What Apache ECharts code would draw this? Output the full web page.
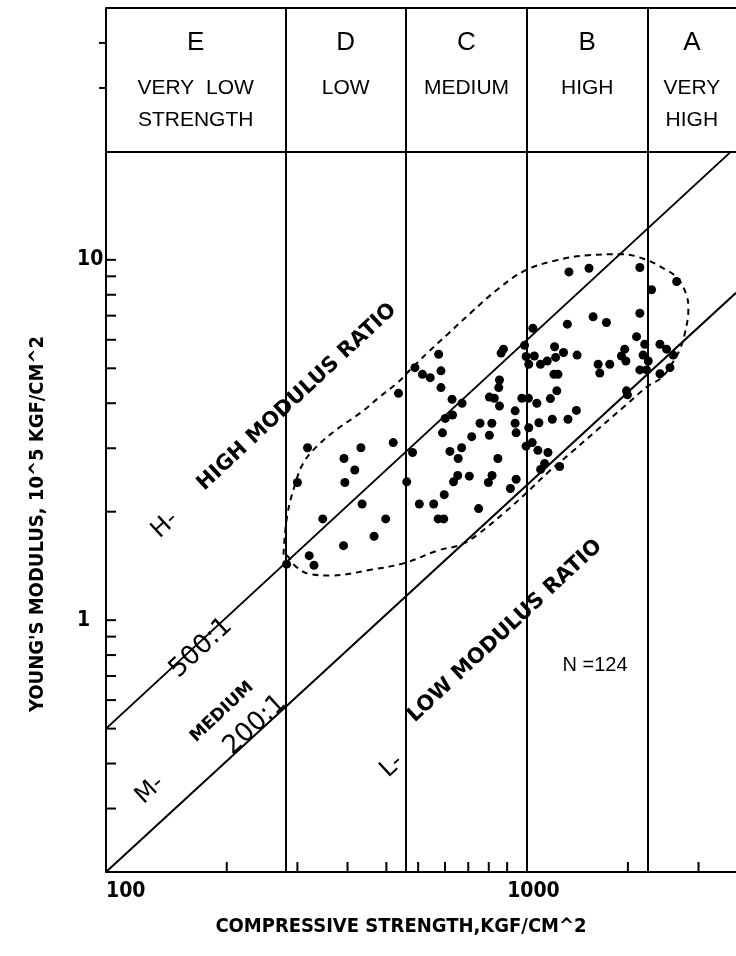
<!DOCTYPE html>
<html><head><meta charset="utf-8">
<script src="https://cdn.jsdelivr.net/npm/echarts@6/dist/echarts.min.js"></script>
<style>html,body{margin:0;padding:0;background:#fff}#c{width:736px;height:956px}</style>
</head><body><div id="c"></div>
<script>
// ---- data ----
const strengthBounds = [280, 560, 1120, 2240];
const classLetters = ['E', 'D', 'C', 'B', 'A'];
const classLine1 = ['VERY  LOW', 'LOW', 'MEDIUM', 'HIGH', 'VERY'];
const classLine2 = ['STRENGTH', '', '', '', 'HIGH'];
const xRange = [100, 3720];
const yRange = [0.2, 50];
const headerBase = 20;
const xMinorTicks = [200, 300, 400, 500, 600, 700, 800, 900, 1000, 2000, 3000];
const yMinorTicks = [0.3, 0.4, 0.5, 0.6, 0.7, 0.8, 0.9, 1, 2, 3, 4, 5, 6, 7, 8, 9, 10];
const yHeaderTicks = [30, 40];
const line500 = [[100, 0.5], [3620, 20]];
const line200 = [[100, 0.2], [3720, 8.1]];
const samples = [
[1426,9.26],[1600,9.48],[2142,9.52],[2646,8.71],[2291,8.26],[2142,7.11],[1638,6.95],[1768,6.70],[1413,6.63],[1159,6.46],
[2102,6.12],[2203,5.83],[2404,5.83],[2497,5.65],[2594,5.44],[979,5.65],[966,5.51],[1105,5.79],[1313,5.74],[1382,5.53],
[1169,5.41],[1115,5.39],[1132,5.13],[1211,5.13],[1259,5.24],[1321,5.36],[1494,5.44],[1964,5.65],[1927,5.41],[1977,5.24],
[2182,5.44],[2248,5.24],[1686,5.13],[1802,5.13],[1702,4.85],[2142,4.95],[2226,4.95],[2546,5.02],[2404,4.83],[1308,4.81],
[1339,4.81],[675,5.47],[589,5.02],[615,4.81],[643,4.71],[684,4.92],[684,4.42],[536,4.26],[729,4.10],[772,4.00],
[957,4.64],[953,4.42],[903,4.16],[929,4.13],[957,3.93],[1088,4.13],[1130,4.13],[1186,4.00],[1282,4.12],[1330,4.33],
[1047,3.81],[1488,3.82],[1418,3.61],[1296,3.61],[1200,3.53],[1984,4.33],[1995,4.22],[701,3.63],[731,3.71],[690,3.31],
[856,3.52],[916,3.52],[903,3.26],[816,3.23],[1047,3.52],[1053,3.31],[1132,3.42],[770,3.01],[720,2.94],[755,2.81],
[948,2.81],[1115,3.04],[1155,3.11],[1193,2.96],[1264,2.92],[1240,2.72],[1212,2.62],[1352,2.67],[581,2.92],[520,3.11],
[432,3.01],[392,2.81],[318,3.01],[417,2.61],[394,2.41],[300,2.41],[562,2.42],[753,2.52],[805,2.51],[735,2.42],
[917,2.52],[898,2.41],[1053,2.46],[1019,2.32],[697,2.23],[604,2.10],[656,2.10],[435,2.10],[347,1.91],[498,1.91],
[673,1.91],[695,1.91],[849,2.04],[466,1.71],[391,1.61],[321,1.51],[330,1.42],[282,1.43]
];
const envelope = [
[277,1.52],[283,1.95],[297,2.41],[311,2.74],[336,3.04],[377,3.39],[432,3.77],[484,4.19],[533,4.56],[575,4.97],
[634,5.53],[711,6.22],[813,7.14],[948,8.29],[1105,9.32],[1313,9.94],[1591,10.3],[1928,10.37],[2204,10.04],[2474,9.42],
[2672,8.84],[2803,7.94],[2830,7.30],[2776,6.28],[2697,5.65],[2570,5.13],[2427,4.71],[2248,4.47],[1965,3.93],[1686,3.39],
[1445,2.92],[1264,2.57],[1105,2.23],[985,1.99],[845,1.73],[767,1.62],[671,1.56],[554,1.44],[457,1.38],[363,1.33],
[324,1.34],[297,1.41],[283,1.51],[277,1.52]
];

// ---- chart ----
const BLACK = '#000';
const NARROW = '"Liberation Sans Narrow", "DejaVu Sans Condensed", "Liberation Sans", sans-serif';
const SANS = '"DejaVu Sans", "Liberation Sans", sans-serif';
const HELV = '"Liberation Sans", Arial, sans-serif';
const edges = [xRange[0]].concat(strengthBounds, [xRange[1]]);
const centers = classLetters.map((_, i) => Math.sqrt(edges[i] * edges[i + 1]));
function decadeLabel(v) {
  const l = Math.log10(v);
  return Math.abs(l - Math.round(l)) < 1e-6 ? String(Math.round(v)) : '';
}
function headerSeries(texts, yVal, font) {
  const items = [];
  texts.forEach((t, i) => { if (t) items.push([centers[i], yVal, i]); });
  return {
    type: 'custom', clip: false, silent: true, z: 5, data: items,
    renderItem: function (params, api) {
      const p = api.coord([api.value(0), api.value(1)]);
      return { type: 'text', x: p[0], y: p[1],
               style: { text: texts[api.value(2)], font: font, fill: BLACK, align: 'center', verticalAlign: 'middle' } };
    }
  };
}
const tickLine = (len, dx, dy) => function (params, api) {
  const p = api.coord([api.value(0), api.value(1)]);
  return { type: 'line', shape: { x1: p[0], y1: p[1], x2: p[0] + dx * len, y2: p[1] + dy * len },
           style: { stroke: BLACK, lineWidth: 2 } };
};
const vLines = strengthBounds.map(v => ({ xAxis: v }));
const chart = echarts.init(document.getElementById('c'), null, { renderer: 'canvas' });
const deg = Math.PI / 180;
const rotText = (x, y, text, font) => ({ type: 'text', x: x, y: y, rotation: 43 * deg,
  style: { text: text, font: font, fill: BLACK, align: 'center', verticalAlign: 'middle' } });
chart.setOption({
  animation: false,
  backgroundColor: '#fff',
  grid: { left: 106, top: 8, width: 630, height: 864, containLabel: false },
  xAxis: {
    type: 'log', logBase: 10, min: xRange[0], max: xRange[1],
    name: 'COMPRESSIVE STRENGTH,KGF/CM^2', nameLocation: 'middle', nameGap: 45,
    nameTextStyle: { color: BLACK, fontFamily: NARROW, fontWeight: 'bold', fontSize: 20, padding: [0, 40, 0, 0] },
    axisLine: { show: true, onZero: false, lineStyle: { color: BLACK, width: 2 } },
    axisTick: { show: false }, splitLine: { show: false }, minorTick: { show: false },
    axisLabel: { formatter: decadeLabel, align: 'left', margin: 9, color: BLACK,
                 fontFamily: NARROW, fontWeight: 'bold', fontSize: 21, showMaxLabel: false }
  },
  yAxis: {
    type: 'log', logBase: 10, min: yRange[0], max: yRange[1],
    name: "YOUNG'S MODULUS, 10^5 KGF/CM^2", nameLocation: 'middle', nameGap: 58, nameRotate: 90,
    nameTextStyle: { color: BLACK, fontFamily: NARROW, fontWeight: 'bold', fontSize: 20, padding: [0, 168, 0, 0] },
    axisLine: { show: true, onZero: false, lineStyle: { color: BLACK, width: 2 } },
    axisTick: { show: false }, splitLine: { show: false },
    axisLabel: { formatter: decadeLabel, align: 'left', margin: 29, color: BLACK,
                 fontFamily: NARROW, fontWeight: 'bold', fontSize: 21, showMaxLabel: false, showMinLabel: false }
  },
  series: [
    { type: 'line', data: [], silent: true,
      markLine: { symbol: 'none', silent: true, label: { show: false },
        lineStyle: { color: BLACK, width: 2, type: 'solid' },
        data: vLines.concat([{ yAxis: headerBase }, { yAxis: yRange[1] }]) } },
    { type: 'custom', clip: false, silent: true, data: xMinorTicks.map(v => [v, yRange[0]]),
      renderItem: tickLine(10, 0, -1) },
    { type: 'custom', clip: false, silent: true, data: yMinorTicks.map(v => [xRange[0], v]),
      renderItem: tickLine(10, 1, 0) },
    { type: 'custom', clip: false, silent: true, data: yHeaderTicks.map(v => [xRange[0], v]),
      renderItem: tickLine(7, -1, 0) },
    { type: 'line', data: line500, symbol: 'none', silent: true, lineStyle: { color: BLACK, width: 2 } },
    { type: 'line', data: line200, symbol: 'none', silent: true, lineStyle: { color: BLACK, width: 2 } },
    { type: 'line', data: envelope, symbol: 'none', smooth: 0.4, silent: true,
      lineStyle: { color: BLACK, width: 2, type: [6, 5] } },
    { type: 'scatter', data: samples, symbol: 'circle', symbolSize: 9, itemStyle: { color: BLACK, opacity: 1 }, silent: true },
    headerSeries(classLetters, 40, '26px ' + HELV),
    headerSeries(classLine1, 30, '21px ' + HELV),
    headerSeries(classLine2, 24.4, '21px ' + HELV)
  ],
  graphic: [
    rotText(165, 525, 'H-', '24px ' + SANS),
    rotText(297, 397, 'HIGH MODULUS RATIO', 'bold 21px ' + SANS),
    rotText(201, 648, '500:1', '26px ' + SANS),
    rotText(150, 790, 'M-', '24px ' + SANS),
    rotText(222, 712, 'MEDIUM', 'bold 17px ' + SANS),
    rotText(255, 725, '200:1', '26px ' + SANS),
    rotText(392, 766, 'L-', '24px ' + SANS),
    rotText(505, 631, 'LOW MODULUS RATIO', 'bold 21px ' + SANS),
    { type: 'text', x: 595, y: 665, style: { text: 'N =124', font: '20px ' + HELV, fill: BLACK, align: 'center', verticalAlign: 'middle' } }
  ]
});
</script></body></html>
